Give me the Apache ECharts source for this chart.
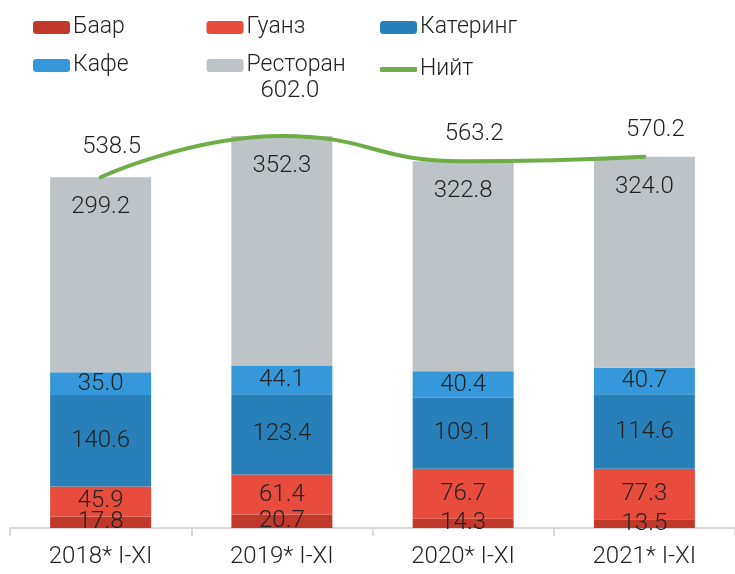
<!DOCTYPE html>
<html><head><meta charset="utf-8">
<script src="https://cdn.jsdelivr.net/npm/echarts@6/dist/echarts.min.js"></script>
<style>html,body{margin:0;padding:0;background:#fff}#c{width:735px;height:574px}</style>
</head><body><div id="c"></div>
<script>
var categories = ['2018* I-XI', '2019* I-XI', '2020* I-XI', '2021* I-XI'];
var baar = [17.8, 20.7, 14.3, 13.5];
var guanz = [45.9, 61.4, 76.7, 77.3];
var catering = [140.6, 123.4, 109.1, 114.6];
var cafe = [35.0, 44.1, 40.4, 40.7];
var restaurant = [299.2, 352.3, 322.8, 324.0];
var total = [538.5, 602.0, 563.2, 570.2];
var legendNames = ['Баар', 'Гуанз', 'Катеринг', 'Кафе', 'Ресторан', 'Нийт'];

var FONT = 'Roboto';
var chart = echarts.init(document.getElementById('c'));
function fmt(p) { return p.value.toFixed(1); }
function barSeries(name, data, color, pos) {
  return {
    name: name, type: 'bar', stack: 's', data: data, barWidth: 101,
    itemStyle: { color: color },
    label: { show: true, position: pos || 'inside', distance: 18, color: '#222', fontFamily: FONT, fontSize: 24, fontWeight: 300,
      formatter: fmt }
  };
}
var totalData = total.map(function (v, i) {
  return { value: v, label: { offset: i === 1 ? [8, -19] : (i === 0 ? [11, -4] : [11, -1]) } };
});
var legends = legendNames.map(function (n, i) {
  var col = i % 3, row = Math.floor(i / 3);
  var isLine = n === 'Нийт';
  return {
    data: [isLine ? { name: n, icon: 'roundRect' } : n],
    left: 33 + col * 173.5, top: (row === 0 ? 16 : 54) + (isLine ? 4 : 0),
    itemWidth: 37, itemHeight: isLine ? 5 : 13, itemGap: 0, padding: 0,
    textStyle: { fontFamily: FONT, fontSize: 23, fontWeight: 300, color: '#222', padding: [0, 0, 0, -2] }
  };
});
chart.setOption({
  animation: false,
  legend: legends,
  grid: { left: 10, right: -2, top: 7, bottom: 46 },
  xAxis: {
    type: 'category', data: categories,
    axisLine: { lineStyle: { color: '#d9d9d9', width: 2 } },
    axisTick: { show: true, length: 8, lineStyle: { color: '#d9d9d9', width: 2 } },
    axisLabel: { fontFamily: FONT, fontSize: 24, fontWeight: 300, color: '#222', margin: 17 }
  },
  yAxis: { type: 'value', min: 0, max: 800, show: false, splitLine: { show: false } },
  series: [
    barSeries('Баар', baar, '#C0392B'),
    barSeries('Гуанз', guanz, '#E74C3C'),
    barSeries('Катеринг', catering, '#2980B9'),
    barSeries('Кафе', cafe, '#3498DB'),
    barSeries('Ресторан', restaurant, '#BDC3C7', 'insideTop'),
    {
      name: 'Нийт', type: 'line', data: totalData, smooth: true, symbol: 'circle', symbolSize: 0, showSymbol: true,
      lineStyle: { color: '#70AD47', width: 4, cap: 'round' }, itemStyle: { color: '#70AD47' },
      label: { show: true, position: 'top', distance: 14, color: '#222', fontFamily: FONT, fontSize: 24, fontWeight: 300,
        formatter: fmt }
    }
  ]
});
</script></body></html>
